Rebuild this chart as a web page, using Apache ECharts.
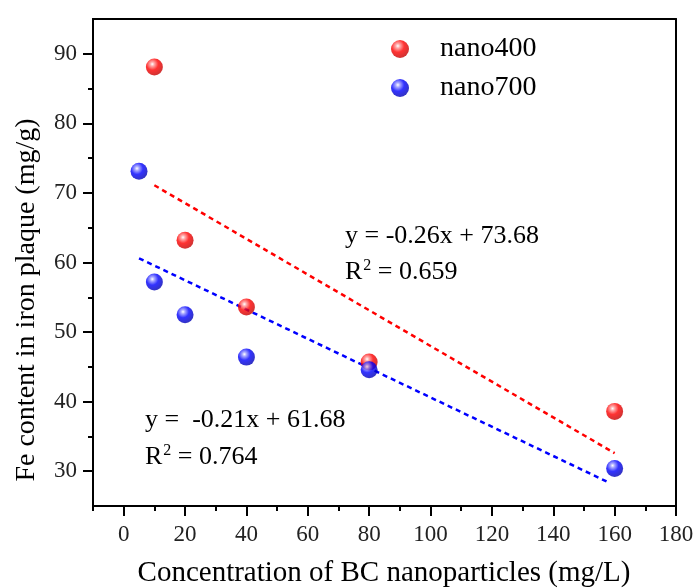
<!DOCTYPE html>
<html>
<head>
<meta charset="utf-8">
<script src="https://cdn.jsdelivr.net/npm/echarts@6/dist/echarts.min.js"></script>
<style>html,body{margin:0;padding:0;background:#fff}#c{width:697px;height:588px}</style>
</head>
<body>
<div id="c"></div>
<script>
// ---- data ----
const seriesNames = ['nano400', 'nano700'];
const nano400X = [10, 20, 40, 80, 160];
const nano400Y = [88.1, 63.2, 53.6, 45.7, 38.6];
const nano700X = [5, 10, 20, 40, 80, 160];
const nano700Y = [73.1, 57.2, 52.5, 46.4, 44.6, 30.4];
const fit400X = [10, 160];
const fit400Y = [71.1, 32.6];
const fit700X = [5, 158];
const fit700Y = [60.6, 28.4];
const xMajorTicks = [0, 20, 40, 60, 80, 100, 120, 140, 160, 180];
const xMinorTicks = [-10, 10, 30, 50, 70, 90, 110, 130, 150, 170];
const yMajorTicks = [30, 40, 50, 60, 70, 80, 90];
const yMinorTicks = [35, 45, 55, 65, 75, 85];
const xTitle = 'Concentration of BC nanoparticles (mg/L)';
const yTitle = 'Fe content in iron plaque (mg/g)';
const eq400 = ['y = -0.26x + 73.68', 'R{sup|2} = 0.659'];
const eq700 = ['y =  -0.21x + 61.68', 'R{sup|2} = 0.764'];

const FONT = "'Liberation Serif','Times New Roman',serif";
const zip = (a, b) => a.map((v, i) => [v, b[i]]);
function ball(c0, c1, c2) {
  return {type: 'radial', x: 0.38, y: 0.33, r: 0.7, colorStops: [
    {offset: 0, color: '#ffffff'}, {offset: 0.18, color: c0},
    {offset: 0.5, color: c1}, {offset: 1, color: c2}]};
}
const redBall = ball('#ff9090', '#ff0000', '#c00000');
const blueBall = ball('#9090ff', '#0000ff', '#0000b0');

const chart = echarts.init(document.getElementById('c'), null, {renderer: 'canvas'});
const lineBlack = {show: true, onZero: false, lineStyle: {color: '#000', width: 2}};
const rich = {sup: {fontSize: 16, verticalAlign: 'top', padding: [0, 0, 12, 1], fontFamily: FONT, fill: '#000'}};

chart.setOption({
  animation: false,
  backgroundColor: '#fff',
  grid: {left: 93, right: 21, top: 19, bottom: 82, containLabel: false, outerBoundsMode: 'none'},
  legend: {
    orient: 'vertical', left: 391, top: 35, itemWidth: 18, itemHeight: 18, itemGap: 11,
    icon: 'circle', padding: 0,
    textStyle: {fontSize: 28, fontFamily: FONT, color: '#000', padding: [0, 0, 0, 26]},
    data: seriesNames
  },
  xAxis: [
    {type: 'value', position: 'bottom', min: -10, max: 180, splitLine: {show: false},
     axisLine: lineBlack,
     axisTick: {show: true, inside: false, length: 10, lineStyle: {width: 2, color: '#000'}, customValues: xMajorTicks},
     axisLabel: {show: true, margin: 17, fontSize: 23, fontFamily: FONT, color: '#222', customValues: xMajorTicks}},
    {type: 'value', position: 'bottom', min: -10, max: 180, splitLine: {show: false},
     axisLine: lineBlack,
     axisTick: {show: true, length: 5, lineStyle: {width: 2, color: '#000'}, customValues: xMinorTicks},
     axisLabel: {show: false}},
    {type: 'value', position: 'top', min: -10, max: 180, splitLine: {show: false},
     axisLine: lineBlack, axisTick: {show: false}, axisLabel: {show: false}}
  ],
  yAxis: [
    {type: 'value', position: 'left', min: 25, max: 95, splitLine: {show: false},
     axisLine: lineBlack,
     axisTick: {show: true, length: 10, lineStyle: {width: 2, color: '#000'}, customValues: yMajorTicks},
     axisLabel: {show: true, margin: 16, fontSize: 23, fontFamily: FONT, color: '#222', customValues: yMajorTicks}},
    {type: 'value', position: 'left', min: 25, max: 95, splitLine: {show: false},
     axisLine: lineBlack,
     axisTick: {show: true, length: 5, lineStyle: {width: 2, color: '#000'}, customValues: yMinorTicks},
     axisLabel: {show: false}},
    {type: 'value', position: 'right', min: 25, max: 95, splitLine: {show: false},
     axisLine: lineBlack, axisTick: {show: false}, axisLabel: {show: false}}
  ],
  series: [
    {name: 'fit400', type: 'line', data: zip(fit400X, fit400Y), showSymbol: false, symbol: 'none',
     lineStyle: {color: '#ff0000', width: 2.5, type: [5, 4]}, z: 2, silent: true},
    {name: 'fit700', type: 'line', data: zip(fit700X, fit700Y), showSymbol: false, symbol: 'none',
     lineStyle: {color: '#0000ff', width: 2.5, type: [5, 4]}, z: 2, silent: true},
    {name: seriesNames[0], type: 'scatter', data: zip(nano400X, nano400Y), symbolSize: 17,
     itemStyle: {color: redBall}, z: 5},
    {name: seriesNames[1], type: 'scatter', data: zip(nano700X, nano700Y), symbolSize: 17,
     itemStyle: {color: blueBall}, z: 5}
  ],
  graphic: [
    {type: 'text', x: 384, y: 573, style: {text: xTitle, font: `29px ${FONT}`, fill: '#000', align: 'center', verticalAlign: 'middle'}},
    {type: 'text', x: 27, y: 300, rotation: Math.PI / 2, style: {text: yTitle, font: `28px ${FONT}`, fill: '#000', align: 'center', verticalAlign: 'middle'}},
    {type: 'text', x: 345, y: 236, style: {text: eq400[0], font: `26px ${FONT}`, fill: '#000', align: 'left', verticalAlign: 'middle'}},
    {type: 'text', x: 345, y: 272, style: {text: eq400[1], font: `26px ${FONT}`, fill: '#000', align: 'left', verticalAlign: 'middle', rich: rich}},
    {type: 'text', x: 145, y: 420, style: {text: eq700[0], font: `26px ${FONT}`, fill: '#000', align: 'left', verticalAlign: 'middle'}},
    {type: 'text', x: 145, y: 457, style: {text: eq700[1], font: `26px ${FONT}`, fill: '#000', align: 'left', verticalAlign: 'middle', rich: rich}}
  ]
});
</script>
</body>
</html>
